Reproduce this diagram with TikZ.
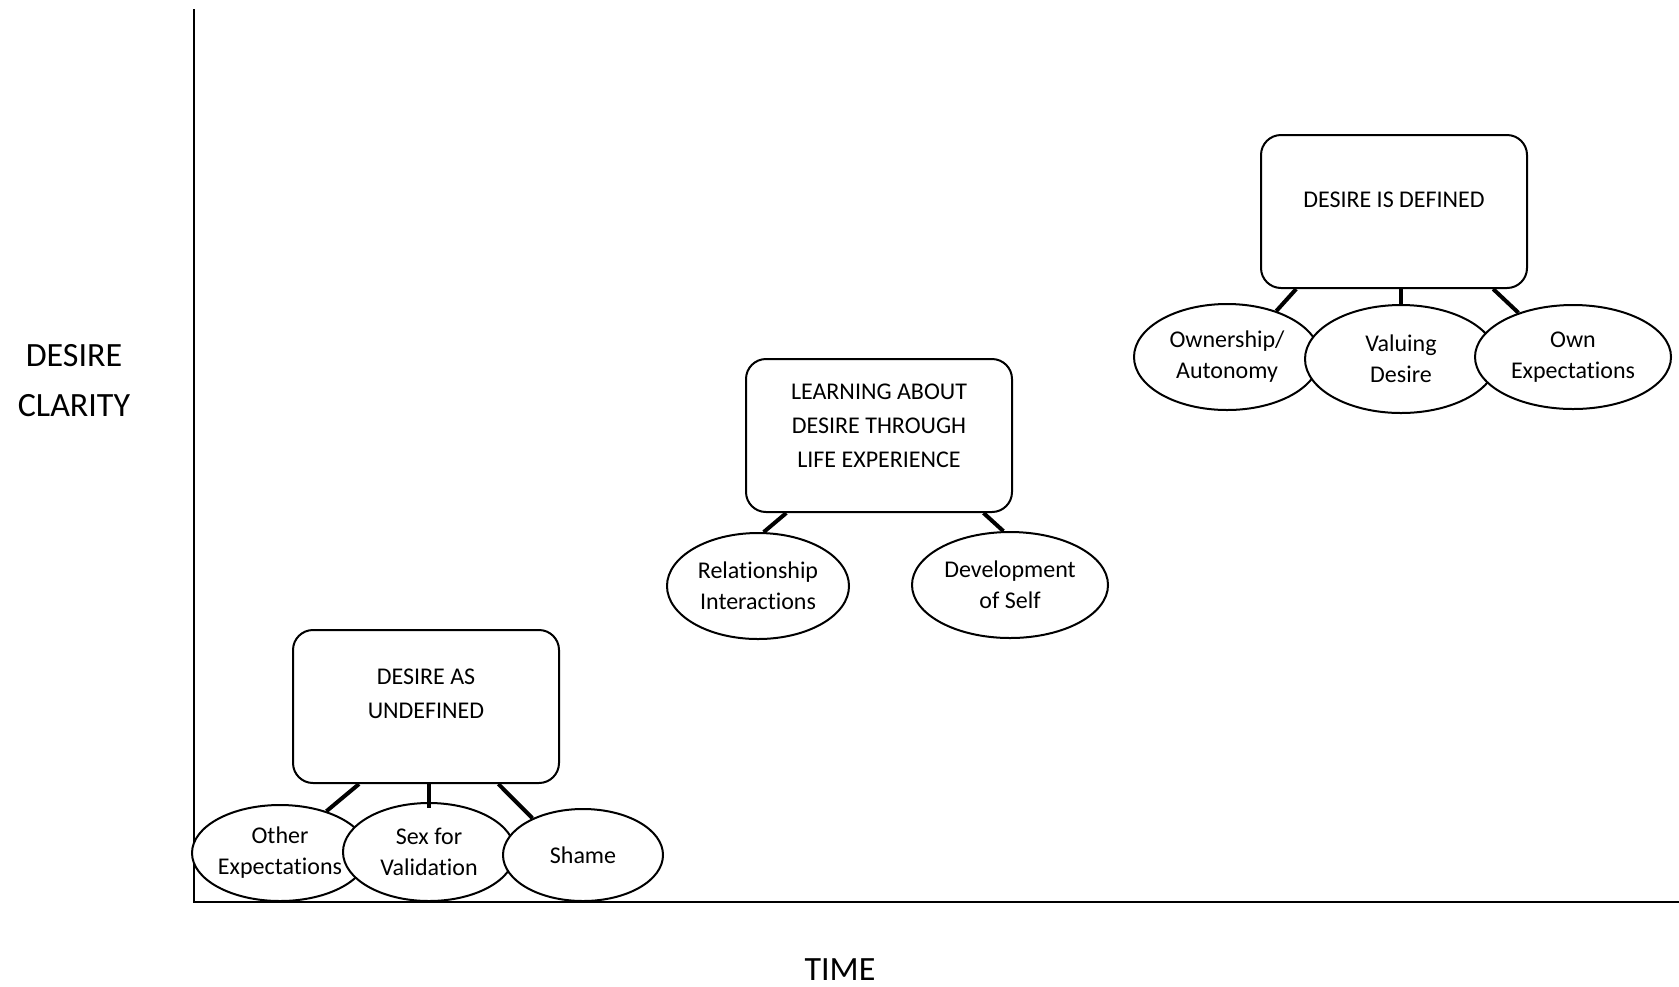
\documentclass[tikz,border=0pt]{standalone}
\usepackage{fontspec}
\setmainfont{Carlito}[Ligatures={NoCommon}]
\usetikzlibrary{shapes.geometric,calc}
\begin{document}
\begin{tikzpicture}[x=0.5pt,y=-0.5pt,
  stage/.style={draw, line width=1pt, rounded corners=10pt, minimum width=133pt, minimum height=76.5pt, inner sep=0pt, fill=white},
  stagetext/.style={align=center, font=\fontsize{12}{17}\selectfont, inner sep=0pt},
  factor/.style={draw, ellipse, line width=1pt, fill=white, align=center, inner sep=0pt, font=\fontsize{12}{15.5}\selectfont},
  link/.style={line width=2pt},
  axis/.style={line width=1.3pt},
  axislabel/.style={align=center, font=\fontsize{17}{25}\selectfont, inner sep=0pt}]
\useasboundingbox (0,0) rectangle (1679,986);

% axes
\coordinate (ytop) at (194,9);
\coordinate (origin) at (194,902);
\coordinate (xend) at (1679,902);
\draw[axis] (ytop) -- (origin) -- (xend);
\node[axislabel, anchor=base] (xlabel) at (840,980) {TIME};
\node[axislabel] (ylabel) at (74,381) {DESIRE\\CLARITY};

% stage 1
\node[stage] (b1) at (426,706.5) {};
\node[stagetext] (b1t) at (426,694) {DESIRE AS\\UNDEFINED};
\node[factor, minimum width=88pt, minimum height=48pt] (e1) at (280,853) {Other\\Expectations};
\node[factor, minimum width=86pt, minimum height=49pt] (e2) at (429,852) {Sex for\\Validation};
\node[factor, minimum width=80pt, minimum height=46pt] (e3) at (583,855) {Shame};
\draw[link] ($(b1.south west)!0.25!(b1.south east)$) -- (e1.42);
\draw[link] (e2.north |- b1.south) -- ($(e2.north)+(0,6)$);
\draw[link] ($(b1.south west)!0.77!(b1.south east)$) -- (e3.144);

% stage 2
\node[stage] (b2) at (879,435.5) {};
\node[stagetext] (b2t) at (879,426) {LEARNING ABOUT\\DESIRE THROUGH\\LIFE EXPERIENCE};
\node[factor, minimum width=91pt, minimum height=53pt] (e4) at (758,586) {Relationship\\Interactions};
\node[factor, minimum width=98pt, minimum height=53pt] (e5) at (1010,585) {Development\\of Self};
\draw[link] ($(b2.south west)!0.154!(b2.south east)$) -- (e4.84);
\draw[link] ($(b2.south west)!0.89!(b2.south east)$) -- (e5.97);

% stage 3
\node[stage] (b3) at (1394,211.5) {};
\node[stagetext] (b3t) at (1394,200) {DESIRE IS DEFINED};
\node[factor, minimum width=93pt, minimum height=53pt] (e6) at (1227,357) {Ownership/\\Autonomy};
\node[factor, minimum width=96pt, minimum height=54pt] (e7) at (1401,359) {Valuing\\Desire};
\node[factor, minimum width=98pt, minimum height=52pt] (e8) at (1573,357) {Own\\Expectations};
\draw[link] ($(b3.south west)!0.135!(b3.south east)$) -- (e6.43);
\draw[link] (e7.north |- b3.south) -- (e7.north);
\draw[link] ($(b3.south west)!0.87!(b3.south east)$) -- (e8.141);
\end{tikzpicture}
\end{document}
